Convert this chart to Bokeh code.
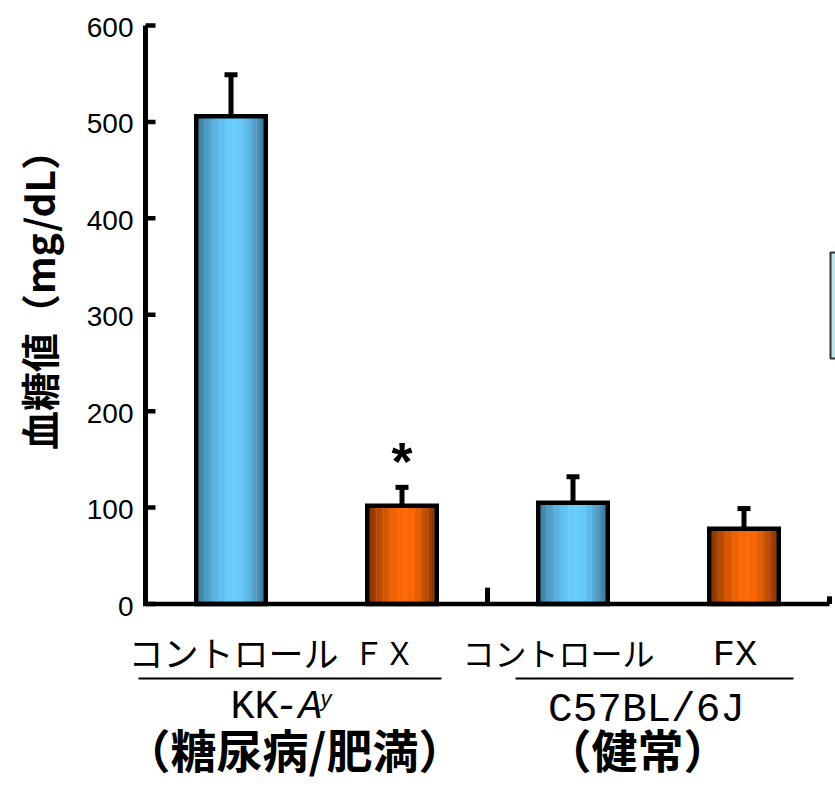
import math

from bokeh.core.properties import value
from bokeh.embed import file_html
from bokeh.models import Range1d
from bokeh.plotting import figure
from bokeh.resources import INLINE

# ---- data -----------------------------------------------------------------
categories = ["コントロール", "ＦＸ", "コントロール", "FX"]
positions = [1, 2, 3, 4]
glucose = [506, 102, 105, 78]          # mean blood glucose (mg/dL)
glucose_sd = [43, 19, 27, 21]          # upper error bar
bar_kind = ["control", "fx", "control", "fx"]
significant = [False, True, False, False]
y_ticks = [0, 100, 200, 300, 400, 500, 600]
y_label = "血糖値（mg/dL）"
group_sub = ["（糖尿病/肥満）", "（健常）"]

# ---- canvas geometry (frame covers the whole canvas) ------------------------
W, H = 835, 787
PXU = 171.0                      # pixels per x unit
X0 = 0.5 - 145 / PXU             # axis sits at x = 0.5
PYU = 0.9642                     # pixels per mg/dL
Y_TOP = 600 + 25 / PYU


def sx(px):
    return X0 + px / PXU


def sy(py):
    return Y_TOP - py / PYU


p = figure(width=W, height=H, output_backend="svg", toolbar_location=None,
           x_axis_type=None, y_axis_type=None, min_border=0,
           x_range=Range1d(X0, X0 + W / PXU), y_range=Range1d(Y_TOP - H / PYU, Y_TOP))
p.outline_line_color = None
p.background_fill_color = "white"
p.border_fill_color = "white"
p.grid.visible = False

# ---- bars with a horizontal cylinder shading --------------------------------
palettes = {
    "control": ((58, 116, 150), (102, 204, 255), (58, 108, 140)),
    "fx": ((120, 46, 0), (255, 102, 0), (116, 48, 8)),
}


def shade(kind, t, peak=0.55):
    left, mid, right = palettes[kind]
    if t <= peak:
        s, edge = t / peak, left
    else:
        s, edge = (1 - t) / (1 - peak), right
    k = math.sin(math.pi / 2 * s)
    r, g, b = (int(round(e + (m - e) * k)) for e, m in zip(edge, mid))
    return f"#{r:02x}{g:02x}{b:02x}"


BAR_W = 69.5 / PXU
N_STRIPS = 30
sw = BAR_W / N_STRIPS
strip_x, strip_top, strip_col = [], [], []
for x, v, kind in zip(positions, glucose, bar_kind):
    for i in range(N_STRIPS):
        t = (i + 0.5) / N_STRIPS
        strip_x.append(x - BAR_W / 2 + (i + 0.5) * sw)
        strip_top.append(v)
        strip_col.append(shade(kind, t))
p.vbar(x=strip_x, top=strip_top, bottom=0, width=sw * 1.15,
       fill_color=strip_col, line_color=None)
p.vbar(x=positions, top=glucose, bottom=0, width=BAR_W, fill_color=None,
       line_color="black", line_width=4.5, line_join="miter")

# error bars (upper only)
err_top = [v + e for v, e in zip(glucose, glucose_sd)]
p.segment(x0=positions, y0=glucose, x1=positions, y1=err_top,
          line_color="black", line_width=5)
p.rect(x=positions, y=err_top, width=13, height=5, width_units="screen",
       height_units="screen", fill_color="black", line_color=None)

# ---- axes -------------------------------------------------------------------
AX = 0.5
p.segment(x0=[AX], y0=[0], x1=[AX], y1=[max(y_ticks)], line_color="black", line_width=5)
p.segment(x0=[AX] * len(y_ticks), y0=y_ticks, x1=[AX + 10 / PXU] * len(y_ticks),
          y1=y_ticks, line_color="black", line_width=4.5)
p.segment(x0=[AX - 2.5 / PXU], y0=[0], x1=[4.5], y1=[0], line_color="black", line_width=4.5)
p.segment(x0=[2.5, 4.5], y0=[0, 0], x1=[2.5, 4.5], y1=[17, 8],
          line_color="black", line_width=5)

p.text(x=[AX] * len(y_ticks), y=y_ticks, text=[str(t) for t in y_ticks],
       x_offset=-12, y_offset=2, text_align="right", text_baseline="middle",
       text_font=value("Liberation Sans"), text_font_size=value("28px"),
       text_color="black")

p.text(x=[sx(37)], y=[sy(290)], text=[y_label], angle=math.pi / 2,
       text_align="center", text_baseline="middle", text_font=value("Noto Sans CJK JP"),
       text_font_style="bold", text_font_size=value("39px"), text_color="black")

# cut-off legend frame at the right edge
p.quad(left=[sx(830)], right=[sx(850)], top=[sy(252)], bottom=[sy(358)],
       fill_color="#bfe3e6", line_color="#333333", line_width=2)

# significance mark
sig_x = [x for x, s in zip(positions, significant) if s]
sig_y = [t for t, s in zip(err_top, significant) if s]
p.text(x=sig_x, y=sig_y, text=["*"] * len(sig_x), y_offset=4,
       text_align="center", text_baseline="bottom",
       text_font=value("Liberation Sans"), text_font_style="bold",
       text_font_size=value("54px"), text_color="black")

# ---- category labels ---------------------------------------------------------
label_dx = [2.5, -18, -14.5, -9]
label_dy = [0, 0, 0, 3]
label_size = ["35px", "31px", "32px", "37px"]
label_font = ["Noto Sans CJK JP", "Noto Sans CJK JP", "Noto Sans CJK JP", "Liberation Mono"]
for x, lab, dx, dy, fs, fn in zip(positions, categories, label_dx, label_dy,
                                  label_size, label_font):
    p.text(x=[x], y=[sy(651)], text=[lab], x_offset=dx, y_offset=dy, text_align="center",
           text_baseline="middle", text_font=value(fn),
           text_font_size=value(fs), text_color="black")

# group underlines
p.segment(x0=[sx(138), sx(515)], y0=[sy(678)] * 2, x1=[sx(441), sx(793)],
          y1=[sy(678)] * 2, line_color="black", line_width=2)

# strain names
p.text(x=[sx(230)], y=[sy(707)], text=["KK"], text_align="left",
       text_baseline="middle", text_font=value("Liberation Mono"),
       text_font_size=value("40px"), text_color="black")
p.text(x=[sx(274)], y=[sy(707)], text=["-A"], text_align="left",
       text_baseline="middle", text_font=value("Liberation Mono"),
       text_font_style="italic", text_font_size=value("40px"), text_color="black")
p.text(x=[sx(320)], y=[sy(698)], text=["y"], text_align="left",
       text_baseline="middle", text_font=value("Liberation Sans"),
       text_font_style="italic", text_font_size=value("22px"), text_color="black")
p.text(x=[sx(646)], y=[sy(709)], text=["C57BL/6J"], text_align="center",
       text_baseline="middle", text_font=value("Liberation Mono"),
       text_font_size=value("41px"), text_color="black")

p.text(x=[sx(294), sx(637)], y=[sy(747)] * 2, text=group_sub, text_align="center",
       text_baseline="middle", text_font=value("Noto Sans CJK JP"),
       text_font_style="bold", text_font_size=value("46px"), text_color="black")

open("out.html", "w").write(file_html(p, INLINE))
